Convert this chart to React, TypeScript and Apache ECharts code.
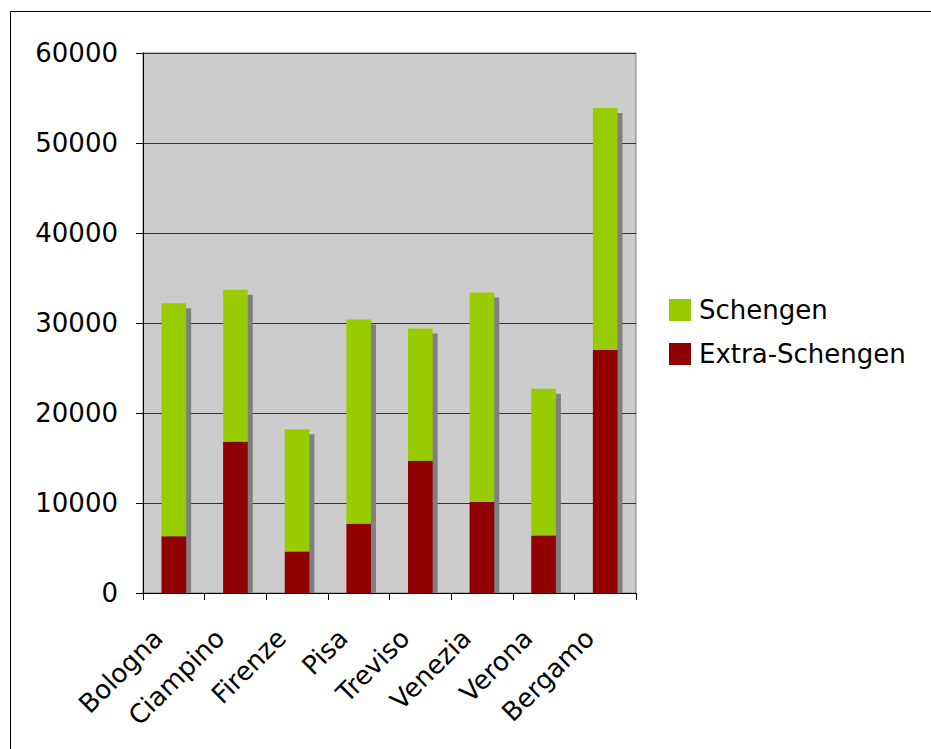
import React, { useEffect, useRef } from "react";
import * as echarts from "echarts";

const categories = ["Bologna", "Ciampino", "Firenze", "Pisa", "Treviso", "Venezia", "Verona", "Bergamo"];
const extraSchengen = [6300, 16800, 4600, 7700, 14700, 10100, 6400, 27000];
const schengen = [25900, 16900, 13600, 22700, 14700, 23300, 16300, 26900];
const yTicks = { min: 0, max: 60000, interval: 10000 };

export default function App() {
  const ref = useRef<HTMLDivElement>(null);
  useEffect(() => {
    document.body.style.margin = "0";
    const chart = echarts.init(ref.current!, null, { renderer: "svg" });
    const totals = categories.map((_, i) => [i, extraSchengen[i] + schengen[i]]);
    chart.setOption({
      animation: false,
      textStyle: { fontFamily: "DejaVu Sans" },
      graphic: [
        {
          type: "rect",
          shape: { x: 10.5, y: 11.5, width: 940, height: 760 },
          style: { fill: "none", stroke: "#000", lineWidth: 1 },
          silent: true,
        },
      ],
      grid: {
        left: 143,
        top: 53,
        right: 295,
        bottom: 156,
        show: true,
        backgroundColor: "#cccccc",
        borderColor: "#808080",
        borderWidth: 1,
      },
      legend: {
        orient: "vertical",
        left: 669,
        top: 297,
        padding: 0,
        itemWidth: 22,
        itemHeight: 22,
        itemGap: 18,
        icon: "rect",
        data: ["Schengen", "Extra-Schengen"],
        textStyle: { fontSize: 26, color: "#000", fontFamily: "DejaVu Sans", padding: [0, 0, 0, 3] },
      },
      xAxis: {
        type: "category",
        data: categories,
        boundaryGap: true,
        axisLine: { lineStyle: { color: "#000", width: 1 } },
        axisTick: { show: true, length: 7, lineStyle: { color: "#000" } },
        axisLabel: { rotate: 45, fontSize: 26, color: "#000", margin: 25, interval: 0, padding: [0, 22, 0, 0] },
        splitLine: { show: false },
      },
      yAxis: {
        type: "value",
        min: yTicks.min,
        max: yTicks.max,
        interval: yTicks.interval,
        axisLine: { show: true, lineStyle: { color: "#000", width: 1 } },
        axisTick: { show: true, length: 7, lineStyle: { color: "#000" } },
        axisLabel: { fontSize: 26, color: "#000", margin: 25, formatter: (v: number) => String(v) },
        splitLine: { show: true, lineStyle: { color: "#333", width: 1 } },
      },
      series: [
        {
          type: "custom",
          name: "shadow",
          z: 1,
          silent: true,
          data: totals,
          renderItem: (params: any, api: any) => {
            const top = api.coord([api.value(0), api.value(1)]);
            const base = api.coord([api.value(0), 0]);
            const w = api.size([1, 0])[0] * 0.4;
            return {
              type: "rect",
              shape: { x: top[0] - w / 2 + 5, y: top[1] + 5, width: w, height: base[1] - top[1] - 5 },
              style: { fill: "#808080" },
            };
          },
        },
        {
          name: "Extra-Schengen",
          type: "bar",
          stack: "t",
          z: 2,
          barWidth: "40%",
          data: extraSchengen,
          itemStyle: { color: "#900000" },
        },
        {
          name: "Schengen",
          type: "bar",
          stack: "t",
          z: 2,
          barWidth: "40%",
          data: schengen,
          itemStyle: { color: "#99cc00" },
        },
      ],
    });
    return () => chart.dispose();
  }, []);
  return <div ref={ref} style={{ width: 931, height: 749 }} />;
}
